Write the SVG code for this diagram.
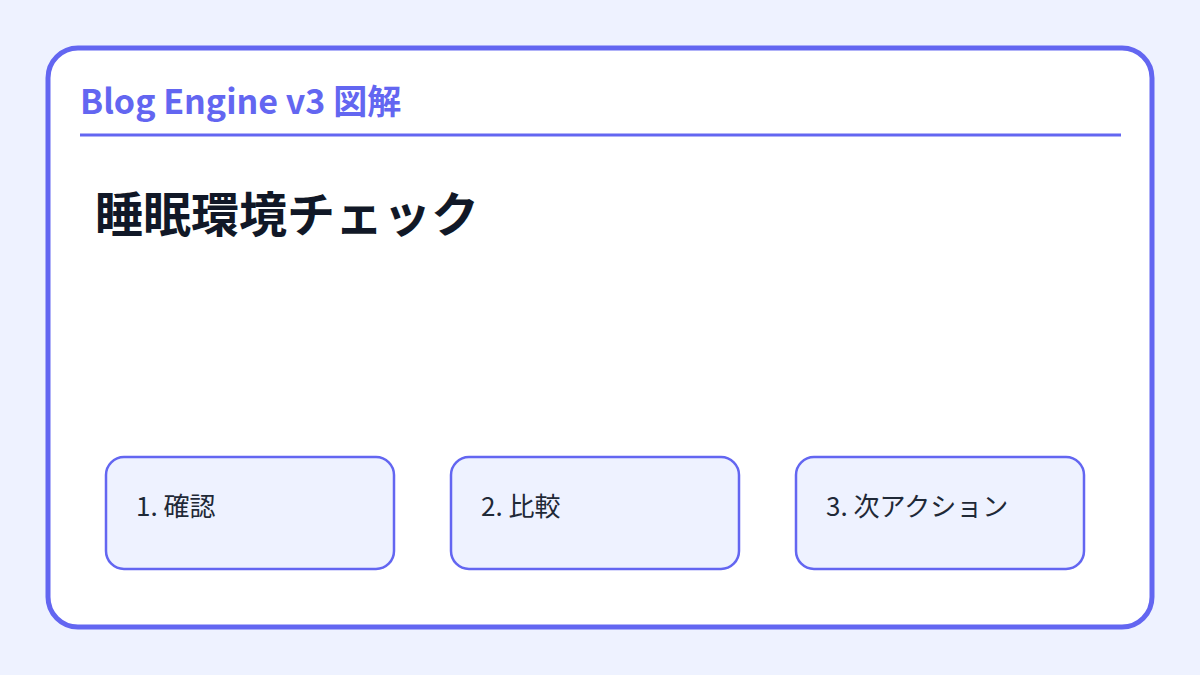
<svg xmlns="http://www.w3.org/2000/svg" width="1200" height="675" viewBox="0 0 1200 675">
<style>
.hdr{font-family:"Noto Sans CJK JP","Noto Sans",sans-serif;font-weight:700;font-size:34px;fill:#6366F1}
.ttl{font-family:"Noto Sans CJK JP","Noto Sans",sans-serif;font-weight:700;font-size:48px;fill:#111827}
.box{fill:#EEF2FF;stroke:#6366F1;stroke-width:2.5}
.lbl{font-family:"Noto Sans CJK JP","Noto Sans",sans-serif;font-size:26px;fill:#1F2937}
</style>
<rect x="0" y="0" width="1200" height="675" fill="#EEF2FF"/>
<g id="card">
<rect x="48" y="48" width="1104" height="579" rx="30" fill="#FFFFFF" stroke="#6366F1" stroke-width="5"/>
<text class="hdr" x="80" y="114">Blog Engine v3 図解</text>
<line x1="80" y1="135" x2="1121" y2="135" stroke="#6366F1" stroke-width="3"/>
<text class="ttl" x="95" y="232">睡眠環境チェック</text>
</g>
<g id="connectors"></g>
<g id="n1"><rect class="box" x="106" y="457" width="288" height="112" rx="18"/><text class="lbl" x="136" y="516">1. 確認</text></g>
<g id="n2"><rect class="box" x="451" y="457" width="288" height="112" rx="18"/><text class="lbl" x="481" y="516">2. 比較</text></g>
<g id="n3"><rect class="box" x="796" y="457" width="288" height="112" rx="18"/><text class="lbl" x="826" y="516">3. 次アクション</text></g>
</svg>
